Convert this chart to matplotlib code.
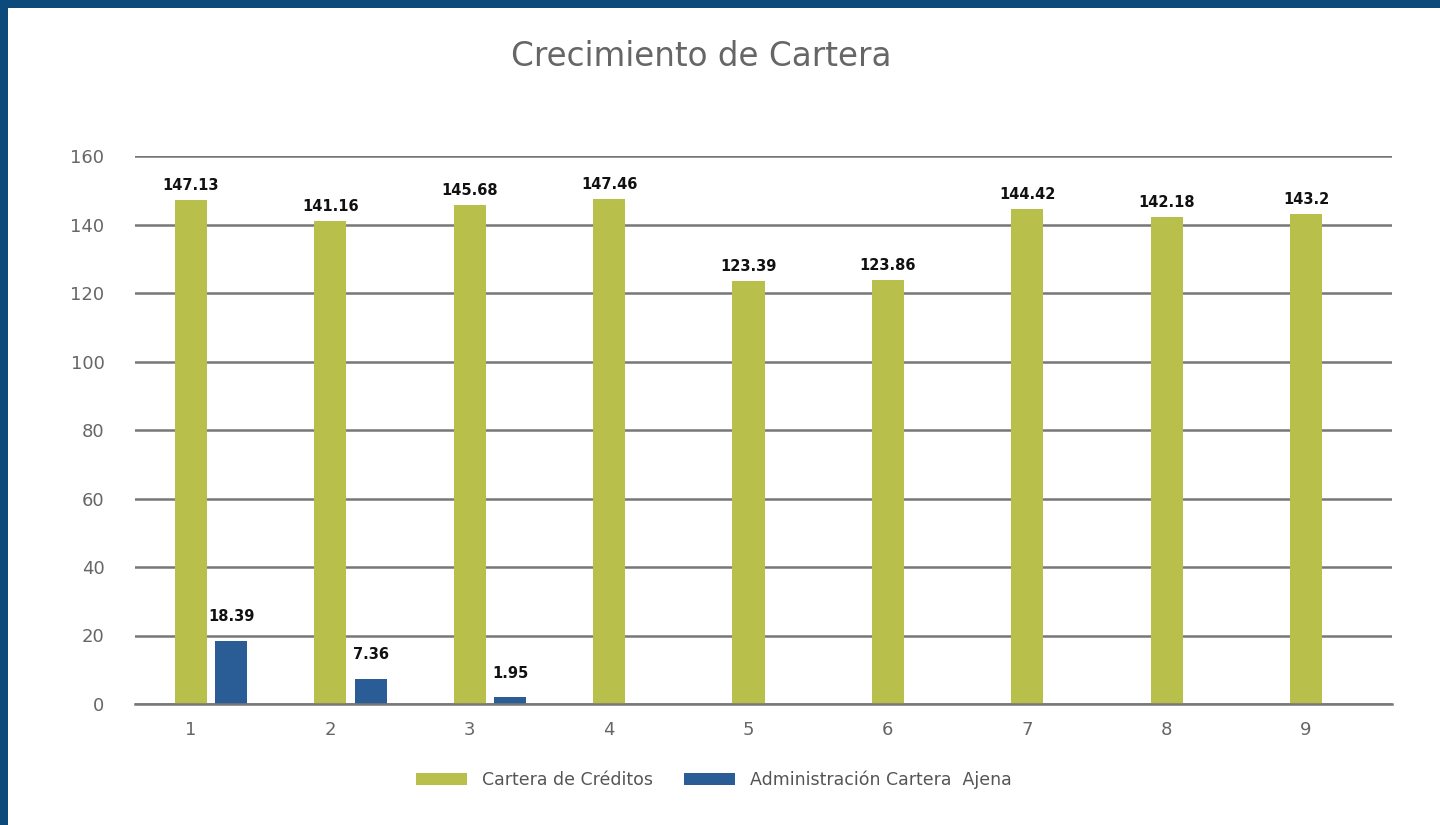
import numpy as np
import matplotlib.pyplot as plt
from matplotlib.patches import Rectangle

# data
categorias = ["1", "2", "3", "4", "5", "6", "7", "8", "9"]
cartera_creditos = [147.13, 141.16, 145.68, 147.46, 123.39, 123.86, 144.42, 142.18, 143.2]
cartera_ajena = [18.39, 7.36, 1.95, None, None, None, None, None, None]
etiquetas_ajena = ["18.39", "7.36", "1.95"]

VERDE = "#b8bf4a"
AZUL = "#2a5d96"
GRIS = "#666666"

plt.rcParams["font.family"] = ["DejaVu Sans"]

fig = plt.figure(figsize=(14.4, 8.25), dpi=100, facecolor="#0b4a7a")
# white panel with blue frame on top and left
panel = Rectangle((8 / 1440, 0), 1, 1 - 8 / 825, transform=fig.transFigure,
                  facecolor="white", edgecolor="none", zorder=-10)
fig.add_artist(panel)

ax = fig.add_axes([135 / 1440, 121 / 825, 1257 / 1440, 548 / 825])
ax.set_zorder(1)
ax.set_facecolor("white")

x = np.arange(1, len(categorias) + 1)
w = 0.23
off = 0.29

b1 = ax.bar(x, cartera_creditos, width=w, color=VERDE, label="Cartera de Créditos", zorder=3)
xa = [xi + off for xi, v in zip(x, cartera_ajena) if v is not None]
va = [v for v in cartera_ajena if v is not None]
b2 = ax.bar(xa, va, width=w, color=AZUL, label="Administración Cartera  Ajena", zorder=3)

# value labels
for xi, v in zip(x, cartera_creditos):
    ax.annotate(f"{v:g}", (xi, v), xytext=(0, 5), textcoords="offset points",
                ha="center", va="bottom", fontsize=10.5, fontweight="bold", color="#111111")
for xi, v, t in zip(xa, va, etiquetas_ajena):
    ax.annotate(t, (xi, v), xytext=(0, 12), textcoords="offset points",
                ha="center", va="bottom", fontsize=10.5, fontweight="bold", color="#111111")

ax.set_xlim(0.598, 9.617)
ax.set_ylim(0, 160)
ax.set_yticks(np.arange(0, 161, 20))
ax.set_xticks(x)
ax.set_xticklabels(categorias)
ax.yaxis.grid(True, color="#777777", linewidth=1.8, zorder=1)
ax.set_axisbelow(True)
for s in ["top", "right", "left"]:
    ax.spines[s].set_visible(False)
ax.spines["bottom"].set_color("#777777")
ax.spines["bottom"].set_linewidth(1.8)
ax.spines["bottom"].set_zorder(4)
ax.tick_params(axis="both", length=0, colors=GRIS, labelsize=13)
ax.tick_params(axis="y", pad=22)
ax.tick_params(axis="x", pad=12)

fig.text(0.487, 0.932, "Crecimiento de Cartera", ha="center", va="center",
         fontsize=23.5, color=GRIS)

fig.legend(handles=[b1, b2], loc="center", bbox_to_anchor=(0.496, 0.055), ncol=2,
           frameon=False, fontsize=12.5, labelcolor="#555555",
           handlelength=2.9, handleheight=0.65, handletextpad=0.9, columnspacing=1.8)

fig.savefig("out.png", dpi=100, facecolor=fig.get_facecolor())
